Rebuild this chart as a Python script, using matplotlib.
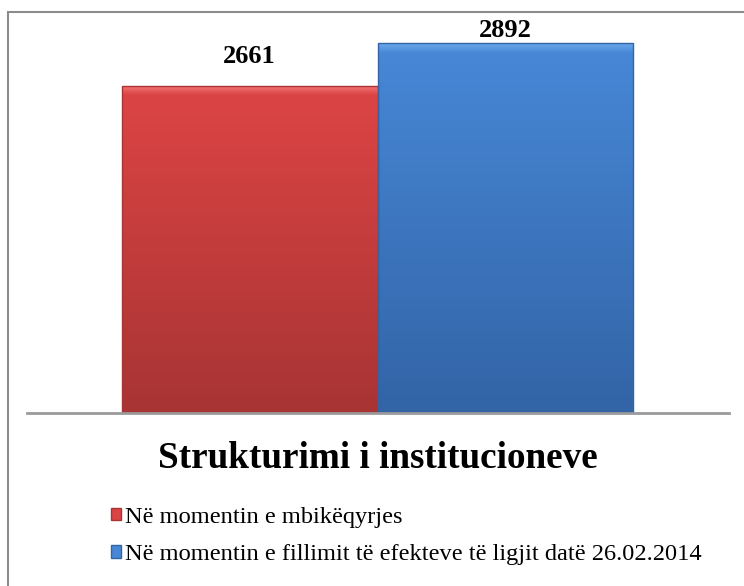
import numpy as np
import matplotlib
matplotlib.use("Agg")
import matplotlib.pyplot as plt
from matplotlib.patches import Rectangle, Patch
from matplotlib.colors import LinearSegmentedColormap

categories = ["Në momentin e mbikëqyrjes",
              "Në momentin e fillimit të efekteve të ligjit datë 26.02.2014"]
values = [2661, 2892]
title = "Strukturimi i institucioneve"

top_colors = ["#dc4444", "#4787d6"]
bottom_colors = ["#a83434", "#3264a6"]
light_colors = ["#f07070", "#6aa6ea"]
label_offsets = [13, 1.0]  # points above bar top

plt.rcParams["font.family"] = ["Liberation Serif", "DejaVu Serif"]

fig = plt.figure(figsize=(7.44, 5.86), dpi=100)
ax = fig.add_axes([27 / 744, 1 - 413 / 586, 702 / 744, 383 / 586])
ymin, ymax = 904, 2962
ax.set_xlim(-0.8718, 1.8757)
ax.set_ylim(ymin, ymax)

x = np.arange(len(values))
heights = np.array(values) - ymin
bars = ax.bar(x, heights, bottom=ymin, width=1.0, color=top_colors,
              edgecolor="none", zorder=2)

# vertical gradient inside each bar, with a light bevel at the top
grad = np.linspace(0, 1, 512).reshape(-1, 1)
for b, c_top, c_bot, c_lt in zip(bars, top_colors, bottom_colors, light_colors):
    cmap = LinearSegmentedColormap.from_list(
        "g", [(0, c_bot), (0.975, c_top), (1.0, c_lt)])
    im = ax.imshow(grad, cmap=cmap, aspect="auto", origin="lower",
                   extent=[b.get_x(), b.get_x() + b.get_width(),
                           ymin, ymin + b.get_height()],
                   zorder=2.5)
    im.set_clip_path(b)
    ax.bar(b.get_x() + b.get_width() / 2, b.get_height(), bottom=ymin,
           width=b.get_width(), facecolor="none", edgecolor=c_bot,
           linewidth=1.0, zorder=3)

for xi, v, off in zip(x, values, label_offsets):
    ax.annotate(str(v), (xi, v), xytext=(0, off), textcoords="offset points",
                ha="center", va="bottom", fontsize=19, fontweight="bold",
                annotation_clip=False, zorder=4)

ax.set_xticks([])
ax.set_yticks([])
for s in ["top", "left", "right"]:
    ax.spines[s].set_visible(False)
ax.spines["bottom"].set_color("#9a9a9a")
ax.spines["bottom"].set_linewidth(2)
ax.spines["bottom"].set_zorder(5)
ax.set_facecolor("none")

fig.text(378 / 744, 1 - 458 / 586, title, ha="center", va="center",
         fontsize=26.7, fontweight="bold")

handles = [Patch(facecolor=c, edgecolor=e) for c, e in zip(top_colors, bottom_colors)]
fig.legend(handles, categories, loc="upper left",
           bbox_to_anchor=(101 / 744, 1 - 497 / 586),
           frameon=False, fontsize=17.6, handlelength=0.42, handleheight=0.42,
           handletextpad=0.15, labelspacing=0.68, borderaxespad=0)

# outer chart frame
fig.add_artist(Rectangle((8 / 744, -0.1), 1.2, (1 - 12 / 586) + 0.1,
                         transform=fig.transFigure, fill=False,
                         edgecolor="#8c8c8c", linewidth=1.5))

fig.savefig("out.png", dpi=100)
